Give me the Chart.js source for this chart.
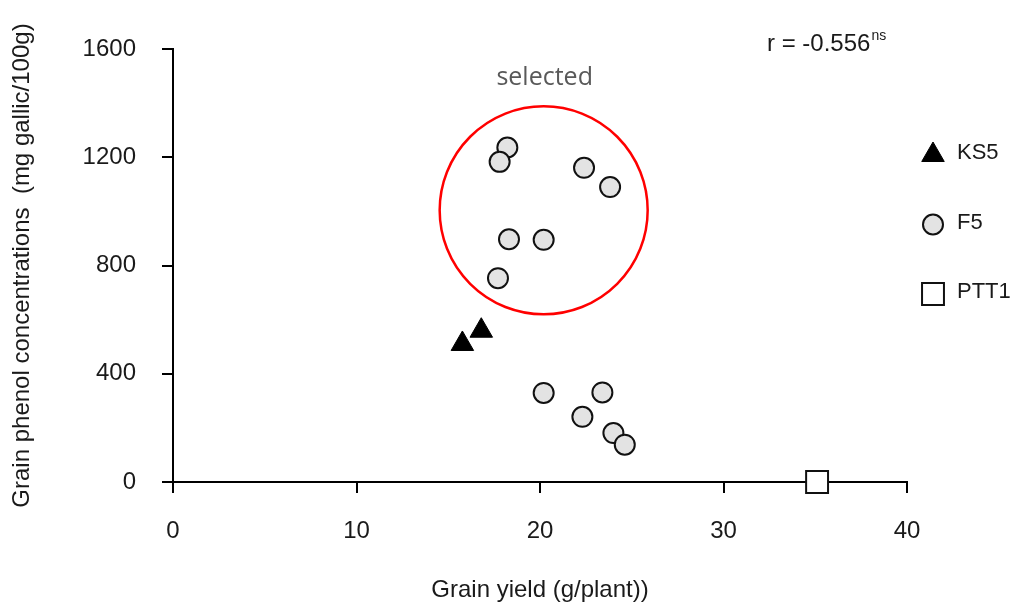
<!DOCTYPE html>
<html>

<head>
    <meta charset='utf-8'>
    <title>Grain yield vs phenol</title>
    <script src="https://cdn.jsdelivr.net/npm/chart.js@4.4.1/dist/chart.umd.min.js"></script>
    <style>
        body { margin: 0; background: #fff; }
    </style>
</head>

<body>
    <canvas id="chart" width="1017" height="605"></canvas>
    <script>
        // values
        var ks5_x = [15.77, 16.8];
        var ks5_y = [510, 559];
        var f5_x = [18.22, 17.8, 22.4, 23.82, 18.31, 20.2, 17.71, 20.2, 23.4, 22.31, 24.0, 24.62];
        var f5_y = [1236, 1183, 1161, 1090, 897, 895, 753, 329, 331, 241, 181, 138];
        var ptt1_x = [35.1];
        var ptt1_y = [0];
        // centre of the red "selected" ring
        var ring_x = [20.2];
        var ring_y = [1004];

        var xTicks = [0, 10, 20, 30, 40];
        var yTicks = [0, 400, 800, 1200, 1600];

        function pts(xs, ys) {
            return xs.map((x, i) => ({ x: x, y: ys[i] }));
        }

        var FONT = '"Liberation Sans", Arial, sans-serif';
        var INK = '#1a1a1a';

        // legend on the right + text notes
        var notes = {
            id: 'notes',
            afterDraw(chart) {
                var ctx = chart.ctx;
                var xs = chart.scales.x;
                ctx.save();
                // legend
                [0, 1, 2].forEach(function (i) {
                    var ds = chart.data.datasets[i];
                    var cx = 933, cy = 155 + i * 69.5;
                    ctx.fillStyle = ds.backgroundColor;
                    ctx.strokeStyle = ds.borderColor;
                    ctx.lineWidth = ds.borderWidth;
                    Chart.helpers.drawPoint(ctx, {
                        pointStyle: ds.pointStyle,
                        radius: ds.legendRadius,
                        borderWidth: ds.borderWidth,
                        rotation: 0
                    }, cx, cy);
                    ctx.fillStyle = INK;
                    ctx.font = '22px ' + FONT;
                    ctx.textAlign = 'left';
                    ctx.textBaseline = 'middle';
                    ctx.fillText(ds.label, 957, cy - 2);
                });
                // "selected" above the ring
                ctx.fillStyle = '#595959';
                ctx.font = '25px "Open Sans", ' + FONT;
                ctx.textAlign = 'center';
                ctx.textBaseline = 'middle';
                ctx.fillText('selected', xs.getPixelForValue(ring_x[0]) + 1, 78);
                // correlation
                ctx.fillStyle = INK;
                ctx.font = '24px ' + FONT;
                ctx.textAlign = 'left';
                ctx.textBaseline = 'alphabetic';
                var t = 'r = -0.556';
                ctx.fillText(t, 767, 51);
                var w = ctx.measureText(t).width;
                ctx.font = '14px ' + FONT;
                ctx.fillText('ns', 767 + w + 1, 40);
                ctx.restore();
            }
        };

        var ctx = document.getElementById('chart').getContext('2d');
        var chart = new Chart(ctx, {
            type: 'scatter',
            data: {
                datasets: [
                    {
                        label: 'KS5',
                        data: pts(ks5_x, ks5_y),
                        pointStyle: 'triangle',
                        pointRadius: 13,
                        legendRadius: 13,
                        backgroundColor: '#000000',
                        borderColor: '#000000',
                        borderWidth: 1,
                        clip: false
                    },
                    {
                        label: 'F5',
                        data: pts(f5_x, f5_y),
                        pointStyle: 'circle',
                        pointRadius: 10,
                        legendRadius: 10,
                        backgroundColor: '#e3e3e3',
                        borderColor: '#111111',
                        borderWidth: 2,
                        clip: false
                    },
                    {
                        label: 'PTT1',
                        data: pts(ptt1_x, ptt1_y),
                        pointStyle: 'rect',
                        pointRadius: 15.5,
                        legendRadius: 15.5,
                        backgroundColor: '#ffffff',
                        borderColor: '#111111',
                        borderWidth: 2,
                        clip: false
                    },
                    {
                        label: 'selected',
                        data: pts(ring_x, ring_y),
                        pointStyle: 'circle',
                        pointRadius: 104,
                        backgroundColor: 'rgba(0,0,0,0)',
                        borderColor: '#ff0000',
                        borderWidth: 2.5,
                        clip: false
                    }
                ]
            },
            options: {
                responsive: false,
                animation: false,
                devicePixelRatio: 1,
                layout: {
                    autoPadding: false,
                    padding: { top: 49, right: 110, left: 0, bottom: 0 }
                },
                plugins: {
                    legend: { display: false },
                    tooltip: { enabled: false }
                },
                scales: {
                    x: {
                        type: 'linear',
                        position: 'bottom',
                        min: 0,
                        max: 40,
                        afterBuildTicks: s => { s.ticks = xTicks.map(v => ({ value: v })); },
                        afterFit: s => { s.height = 605 - 482; },
                        ticks: { color: INK, font: { family: FONT, size: 24 }, padding: 24, callback: v => String(v) },
                        grid: { drawOnChartArea: false, tickLength: 11, lineWidth: 2, color: '#000' },
                        border: { color: '#000', width: 2 },
                        title: {
                            display: true,
                            text: 'Grain yield (g/plant))',
                            color: INK,
                            font: { family: FONT, size: 24 },
                            padding: { top: 0, bottom: 0 }
                        }
                    },
                    y: {
                        min: 0,
                        max: 1600,
                        afterBuildTicks: s => { s.ticks = yTicks.map(v => ({ value: v })); },
                        afterFit: s => { s.width = 173; },
                        ticks: { color: INK, font: { family: FONT, size: 24 }, padding: 26, callback: v => String(v) },
                        grid: { drawOnChartArea: false, tickLength: 11, lineWidth: 2, color: '#000' },
                        border: { color: '#000', width: 2 },
                        title: {
                            display: true,
                            text: 'Grain phenol concentrations  (mg gallic/100g)',
                            color: INK,
                            font: { family: FONT, size: 24 },
                            padding: { top: 8, bottom: 0 }
                        }
                    }
                }
            },
            plugins: [notes]
        });
    </script>
</body>

</html>
